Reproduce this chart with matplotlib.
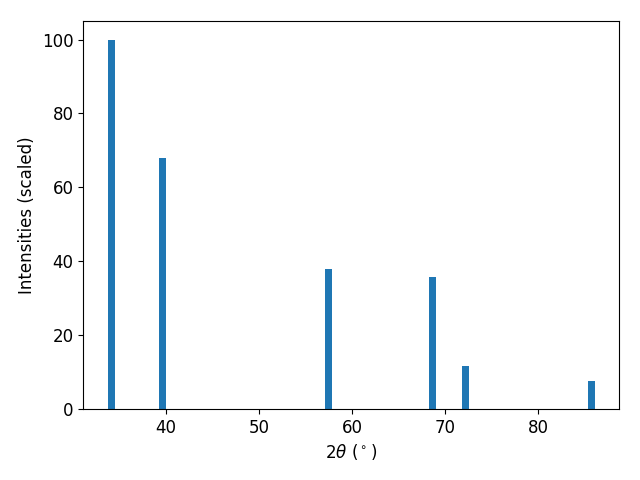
import matplotlib
matplotlib.use("Agg")
import matplotlib.pyplot as plt

two_theta = [34.15, 39.7, 57.45, 68.6, 72.15, 85.65]
intensities = [100.0, 68.0, 38.0, 35.8, 11.6, 7.5]

plt.rcParams['font.size'] = 12
fig, ax = plt.subplots(figsize=(6.4, 4.8), dpi=100)
ax.bar(two_theta, intensities, width=0.75, color='#1f77b4')
ax.set_xlabel(r'2$\theta$ ($^\circ$)')
ax.set_ylabel('Intensities (scaled)')
fig.subplots_adjust(left=0.13, right=0.967, top=0.956, bottom=0.148)
fig.savefig('out.png')
